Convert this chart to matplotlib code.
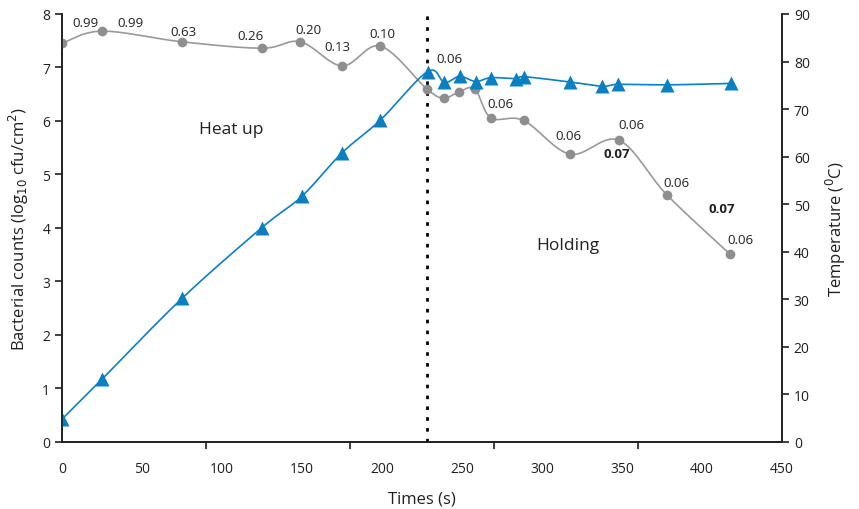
import matplotlib
matplotlib.use("Agg")
import matplotlib.pyplot as plt
import numpy as np

plt.rcParams["font.family"] = ["Open Sans", "DejaVu Sans"]

# bacterial counts (log10 cfu/cm2)
count_times = [0, 25, 75, 125, 149, 175, 199, 228, 238.5, 248, 258, 268, 288.5, 317.5, 348, 378, 417.5]
counts = [7.45, 7.68, 7.48, 7.36, 7.48, 7.03, 7.40, 6.60, 6.43, 6.54, 6.60, 6.06, 6.01, 5.38, 5.64, 4.62, 3.51]

# temperature (C)
temp_times = [0, 25, 75, 125, 150, 175, 199, 228.5, 239, 248.5, 258.5, 268, 284, 289, 317.5, 337.5, 347.5, 378, 418]
temps = [4.8, 13.2, 30.2, 45.1, 51.7, 60.8, 67.7, 77.9, 75.6, 76.9, 75.8, 76.6, 76.4, 76.8, 75.7, 74.8, 75.2, 75.1, 75.4]

# standard deviation labels: (x, y, text, bold)
sd_labels = [
    (14.5, 7.85, "0.99", False), (43, 7.85, "0.99", False), (76, 7.68, "0.63", False),
    (118, 7.6, "0.26", False), (154, 7.71, "0.20", False), (172, 7.4, "0.13", False),
    (200, 7.63, "0.10", False), (242, 7.16, "0.06", False), (274, 6.32, "0.06", False),
    (316.5, 5.72, "0.06", False), (356, 5.94, "0.06", False), (347, 5.4, "0.07", True),
    (384, 4.85, "0.06", False), (412.5, 4.37, "0.07", True), (424, 3.78, "0.06", False),
]

holding_start = 228
blue = "#0a80c2"
grey = "#8e8e8e"
ink = "#231f20"


def smooth(x, y, n=20):
    # Catmull-Rom curve through the points (like Excel's smoothed line)
    pts = np.column_stack([x, y]).astype(float)
    pts = np.vstack([pts[0], pts, pts[-1]])
    out = []
    s = np.linspace(0, 1, n, endpoint=False)[:, None]
    for i in range(1, len(pts) - 2):
        p0, p1, p2, p3 = pts[i - 1], pts[i], pts[i + 1], pts[i + 2]
        seg = 0.5 * ((2 * p1) + (-p0 + p2) * s + (2 * p0 - 5 * p1 + 4 * p2 - p3) * s ** 2
                     + (-p0 + 3 * p1 - 3 * p2 + p3) * s ** 3)
        out.append(seg)
    out.append(pts[-2][None, :])
    out = np.vstack(out)
    return out[:, 0], out[:, 1]


fig = plt.figure(figsize=(8.59, 5.10), dpi=100)
ax = fig.add_axes([0.0722, 0.1314, 0.8382, 0.8392])
ax2 = ax.twinx()

sx, sy = smooth(count_times, counts)
ax.plot(sx, sy, color="#999999", lw=1.2, zorder=2)
ax.plot(count_times, counts, "o", color=grey, ms=7, mec="none", zorder=3)

ax.axvline(holding_start, color="black", lw=2, ls=(0, (1.3, 2.6)), zorder=1)

for x, y, t, b in sd_labels:
    ax.text(x, y, t, ha="center", va="center", fontsize=9.5, color=ink,
            fontweight="bold" if b else "normal")

ax.text(106, 5.85, "Heat up", ha="center", va="center", fontsize=12.5, color=ink)
ax.text(316, 3.69, "Holding", ha="center", va="center", fontsize=12.5, color=ink)

tx, ty = smooth(temp_times, temps)
ax2.plot(tx, ty, color=blue, lw=1.2)
ax2.plot(temp_times, temps, "^", color=blue, ms=10, mec="none")

ax.set_xlim(0, 450)
ax.set_ylim(0, 8)
ax2.set_ylim(0, 90)

ax.set_xticks(np.arange(0, 451, 50))
ax.set_xticks(np.arange(0, 451, 90), minor=True)
ax.tick_params(axis="x", which="major", length=0, pad=14, labelsize=10, labelcolor=ink)
ax.tick_params(axis="x", which="minor", length=5, width=1.2, direction="out", color=ink)
ax.set_yticks(np.arange(0, 9, 1))
ax.tick_params(axis="y", length=5, width=1.2, labelsize=10, labelcolor=ink, color=ink)
ax2.set_yticks(np.arange(0, 91, 10))
ax2.tick_params(axis="y", length=5, width=1.2, labelsize=10, labelcolor=ink, color=ink)

for a in (ax, ax2):
    a.spines["top"].set_visible(False)
    for sp in ("left", "right", "bottom"):
        a.spines[sp].set_linewidth(1.2)
        a.spines[sp].set_color(ink)

ax.set_xlabel("Times (s)", fontsize=12, labelpad=10, color=ink)
ax.set_ylabel("Bacterial counts (log$_{10}$ cfu/cm$^2$)", fontsize=12, labelpad=8, color=ink)
ax2.set_ylabel("Temperature ($^0$C)", fontsize=12, labelpad=10, color=ink)

fig.savefig("out.png", dpi=100)
